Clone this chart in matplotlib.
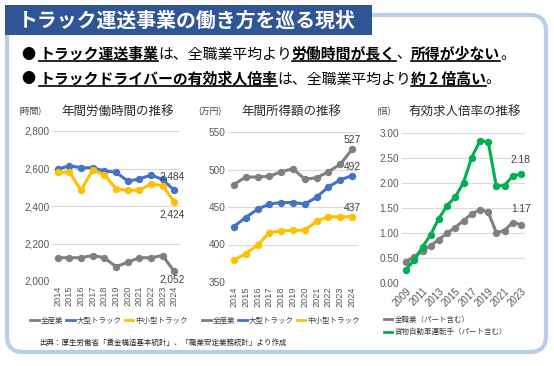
import matplotlib
matplotlib.use('Agg')
import matplotlib.pyplot as plt
from matplotlib.patches import FancyBboxPatch, Rectangle
from matplotlib.lines import Line2D
from matplotlib.ticker import FuncFormatter

plt.rcParams['font.family'] = ['Liberation Sans', 'Noto Sans CJK JP', 'DejaVu Sans']
JP = ['Noto Sans CJK JP', 'DejaVu Sans']

# ---------------- data ----------------
title = 'トラック運送事業の働き方を巡る現状'
line1 = [('トラック運送事業', True), ('は、全職業平均より', False), ('労働時間が長く', True),
         ('、', False), ('所得が少ない', True), ('。', False)]
line2 = [('トラックドライバーの有効求人倍率', True), ('は、全職業平均より', False),
         ('約 2 倍高い', True), ('。', False)]

years_a = ['2014', '2015', '2016', '2017', '2018', '2019', '2020', '2021', '2022', '2023', '2024']
hours_all = [2124, 2124, 2124, 2136, 2124, 2076, 2100, 2124, 2124, 2136, 2052]
hours_large = [2596, 2615, 2604, 2604, 2587, 2580, 2533, 2544, 2565, 2542, 2484]
hours_small = [2580, 2580, 2484, 2592, 2566, 2492, 2484, 2484, 2518, 2508, 2424]

income_all = [480, 490, 490, 491, 497, 501, 487, 489, 497, 507, 527]
income_large = [424, 436, 447, 454, 456, 456, 454, 463, 477, 486, 492]
income_small = [379, 388, 399, 416, 418, 419, 419, 431, 437, 437, 437]

years_r = ['2009', '2010', '2011', '2012', '2013', '2014', '2015', '2016',
           '2017', '2018', '2019', '2020', '2021', '2022', '2023']
ratio_all = [0.43, 0.53, 0.64, 0.75, 0.87, 1.00, 1.11, 1.25, 1.38, 1.47, 1.42, 1.01, 1.05, 1.21, 1.17]
ratio_truck = [0.27, 0.46, 0.72, 0.97, 1.29, 1.55, 1.72, 2.01, 2.51, 2.84, 2.83, 1.94, 1.95, 2.14, 2.18]

names_a = ['全産業', '大型トラック', '中小型トラック']
names_r = ['全職業（パート含む）', '貨物自動車運転手（パート含む）']
source = '出典：厚生労働省「賃金構造基本統計」、「職業安定業務統計」より作成'

GRAY, BLUE, YELLOW, GREEN = '#808080', '#4472C4', '#FFC000', '#00B050'

# ---------------- figure ----------------
W, H, DPI = 554, 366, 100
fig = plt.figure(figsize=(W / DPI, H / DPI), dpi=DPI)
fig.patch.set_facecolor('white')


def fx(x):
    return x / W


def fy(y):
    return 1 - y / H


border = FancyBboxPatch((7 / DPI, (H - 352) / DPI), (546 - 7) / DPI, (352 - 15) / DPI,
                        boxstyle='round,pad=0,rounding_size=0.16',
                        transform=fig.dpi_scale_trans, fill=False,
                        ec='#B9CDE9', lw=3.0, zorder=0)
fig.add_artist(border)
banner = Rectangle((5 / DPI, (H - 35) / DPI), (372 - 5) / DPI, 30 / DPI,
                   transform=fig.dpi_scale_trans, fc='#2F5597', ec='none', zorder=1)
fig.add_artist(banner)
fig.text(fx(18), fy(20), title, color='white', fontsize=14.3, fontweight='bold',
         family=JP, va='center', ha='left', zorder=2)

renderer = fig.canvas.get_renderer()


def draw_bullet_line(yb, segs, fs=10.7):
    fig.text(fx(21), fy(yb), '●', fontsize=fs * 0.95, family=JP, va='baseline', ha='left')
    x = 39.0
    for s, b in segs:
        t = fig.text(fx(x), fy(yb), s, fontsize=fs, family=JP, va='baseline', ha='left',
                     fontweight='bold' if b else 'normal', color='black')
        w = t.get_window_extent(renderer).width
        if b:
            fig.add_artist(Line2D([fx(x), fx(x + w)], [fy(yb + 2.5), fy(yb + 2.5)],
                                  transform=fig.transFigure, color='black', lw=1.2))
        x += w


draw_bullet_line(58.5, line1)
draw_bullet_line(83.5, line2)


def mk_ax(x0, x1, ytop, ybot):
    ax = fig.add_axes([fx(x0), fy(ybot), (x1 - x0) / W, (ybot - ytop) / H])
    ax.set_facecolor('none')
    for s in ax.spines.values():
        s.set_visible(False)
    ax.grid(axis='y', color='#D9D9D9', lw=0.8)
    ax.grid(axis='x', visible=False)
    ax.set_axisbelow(True)
    ax.tick_params(length=0, colors='#595959', labelsize=7.2, pad=2)
    return ax


LW, MS = 2.2, 4.3

# ---- chart 1 ----
ax1 = mk_ax(52, 180, 131, 281)
x1 = list(range(len(years_a)))
ax1.plot(x1, hours_all, color=GRAY, lw=LW, marker='o', ms=MS)
ax1.plot(x1, hours_large, color=BLUE, lw=LW, marker='o', ms=MS)
ax1.plot(x1, hours_small, color=YELLOW, lw=LW, marker='o', ms=MS)
ax1.set_xlim(-0.5, len(years_a) - 0.5)
ax1.set_ylim(2000, 2800)
ax1.set_yticks(range(2000, 2801, 200))
ax1.yaxis.set_major_formatter(FuncFormatter(lambda v, p: f'{v:,.0f}'))
ax1.set_xticks(x1)
ax1.set_xticklabels(years_a, rotation=90, fontsize=6.6)
ax1.tick_params(axis='x', pad=3.5)
for yv, dy in [(hours_large[-1], 14), (hours_small[-1], -13), (hours_all[-1], -8)]:
    ax1.annotate(f'{yv:,}', xy=(x1[-1], yv), xytext=(-2, dy), textcoords='offset pixels',
                 ha='center', va='center', fontsize=7.2, color='#404040')

# ---- chart 2 ----
ax2 = mk_ax(228, 358, 132, 282)
ax2.plot(x1, income_all, color=GRAY, lw=LW, marker='o', ms=MS)
ax2.plot(x1, income_large, color=BLUE, lw=LW, marker='o', ms=MS)
ax2.plot(x1, income_small, color=YELLOW, lw=LW, marker='o', ms=MS)
ax2.set_xlim(-0.5, len(years_a) - 0.5)
ax2.set_ylim(350, 550)
ax2.set_yticks(range(350, 551, 50))
ax2.set_xticks(x1)
ax2.set_xticklabels(years_a, rotation=90, fontsize=6.6)
ax2.tick_params(axis='x', pad=3.5)
for yv in [income_all[-1], income_large[-1], income_small[-1]]:
    ax2.annotate(f'{yv}', xy=(x1[-1], yv), xytext=(0, 9), textcoords='offset pixels',
                 ha='center', va='center', fontsize=7.4, color='#404040')

# ---- chart 3 ----
ax3 = mk_ax(402, 525, 133, 283)
x3 = list(range(len(years_r)))
ax3.plot(x3, ratio_all, color=GRAY, lw=LW, marker='o', ms=MS)
ax3.plot(x3, ratio_truck, color=GREEN, lw=LW, marker='o', ms=MS)
ax3.set_xlim(-0.5, len(years_r) - 0.5)
ax3.set_ylim(0, 3)
ax3.set_yticks([0, 0.5, 1.0, 1.5, 2.0, 2.5, 3.0])
ax3.yaxis.set_major_formatter(FuncFormatter(lambda v, p: f'{v:.2f}'))
ax3.set_xticks(x3[::2])
ax3.set_xticklabels(years_r[::2], rotation=45, ha='right', va='top',
                    rotation_mode='anchor', fontsize=7.0)
ax3.annotate(f'{ratio_truck[-1]:.2f}', xy=(x3[-1], ratio_truck[-1]), xytext=(0, 14),
             textcoords='offset pixels', ha='center', va='center', fontsize=7.4, color='#404040')
ax3.annotate(f'{ratio_all[-1]:.2f}', xy=(x3[-1], ratio_all[-1]), xytext=(0, 15),
             textcoords='offset pixels', ha='center', va='center', fontsize=7.4, color='#404040')

# ---- titles & units ----
for cx, txt in [(118, '年間労働時間の推移'), (291, '年間所得額の推移'), (465, '有効求人倍率の推移')]:
    fig.text(fx(cx), fy(112), txt, fontsize=9, family=JP, ha='center', va='center', color='#262626')
for cx, txt in [(30, '(時間)'), (210, '(万円)'), (383, '(倍)')]:
    fig.text(fx(cx), fy(112), txt, fontsize=6.3, family=JP, ha='center', va='center', color='#404040')

# ---- legends ----
leg_kw = dict(frameon=False, handlelength=1.1, handletextpad=0.3, columnspacing=0.4,
              prop={'family': JP, 'size': 5.4}, labelcolor='#404040',
              bbox_transform=fig.transFigure, borderpad=0, borderaxespad=0)
hA = [Line2D([], [], color=c, lw=2) for c in (GRAY, BLUE, YELLOW)]
ax1.legend(hA, names_a, loc='center', bbox_to_anchor=(fx(109), fy(321)), ncol=3, **leg_kw)
ax2.legend(hA, names_a, loc='center', bbox_to_anchor=(fx(281), fy(321)), ncol=3, **leg_kw)
hR = [Line2D([], [], color=c, lw=2) for c in (GRAY, GREEN)]
ax3.legend(hR, names_r, loc='upper left', bbox_to_anchor=(fx(384), fy(316)), ncol=1,
           labelspacing=0.55, **leg_kw)

fig.text(fx(39), fy(343), source, fontsize=5.4, family=JP, ha='left', va='center', color='#262626')

fig.savefig('out.png', dpi=DPI, facecolor='white')
